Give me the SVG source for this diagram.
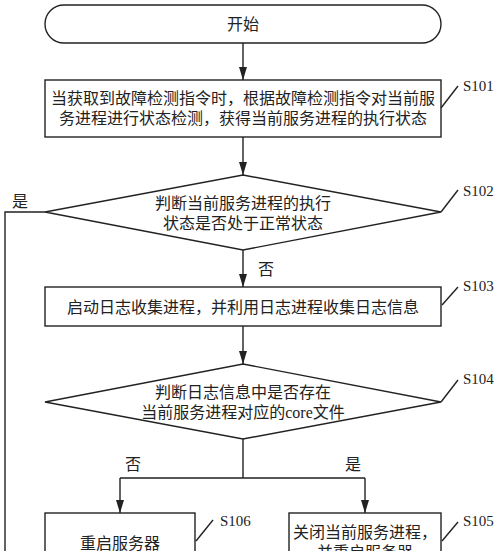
<svg xmlns="http://www.w3.org/2000/svg" width="500" height="551" viewBox="0 0 500 551">
<style>
.n{fill:#fff;stroke:#222;stroke-width:1.4}
.t{font-family:"Liberation Serif","Noto Sans CJK SC",serif;font-size:16px;fill:#222;text-anchor:middle;dominant-baseline:central}
.s{font-family:"Liberation Serif","Noto Sans CJK SC",serif;font-size:15px;fill:#222}
.c{fill:none;stroke:#222;stroke-width:1.4}
.a{marker-end:url(#ah)}
</style>
<defs>
<marker id="ah" markerUnits="userSpaceOnUse" markerWidth="10" markerHeight="14" refX="5" refY="13" orient="auto-start-reverse" viewBox="0 0 10 14">
<path d="M1,0 L9,0 L5,13 Z" fill="#222" transform="rotate(-90 5 7)"/>
</marker>
<marker id="ah2" markerUnits="userSpaceOnUse" markerWidth="14" markerHeight="10" refX="13" refY="5" orient="auto" viewBox="0 0 14 10">
<path d="M0,1 L13,5 L0,9 Z" fill="#222"/>
</marker>
</defs>
<rect width="500" height="551" fill="#fff"/>
<g id="connectors">
<path class="c" d="M243,43 V80" marker-end="url(#ah2)"/>
<path class="c" d="M243,137 V175" marker-end="url(#ah2)"/>
<path class="c" d="M243,250 V287" marker-end="url(#ah2)"/>
<path class="c" d="M243,326 V364" marker-end="url(#ah2)"/>
<path class="c" d="M243,439 V478 M120,478 H365"/>
<path class="c" d="M120,478 V513" marker-end="url(#ah2)"/>
<path class="c" d="M365,478 V513" marker-end="url(#ah2)"/>
<path class="c" d="M45,212 H5 V560"/>
<text class="t" x="20" y="201">是</text>
<text class="t" x="266" y="269">否</text>
<text class="t" x="133" y="464">否</text>
<text class="t" x="353" y="464">是</text>
</g>
<g id="start">
<rect class="n" x="45" y="5" width="396" height="38" rx="19"/>
<text class="t" x="243" y="24">开始</text>
</g>
<g id="S101">
<rect class="n" x="45" y="80" width="396" height="57"/>
<text class="t" x="243" y="98">当获取到故障检测指令时，根据故障检测指令对当前服</text>
<text class="t" x="243" y="118">务进程进行状态检测，获得当前服务进程的执行状态</text>
<path class="c" d="M441,108 L458,86"/>
<text class="s" x="463" y="91">S101</text>
</g>
<g id="S102">
<polygon class="n" points="243,175 441,212 243,250 45,212"/>
<text class="t" x="243" y="203">判断当前服务进程的执行</text>
<text class="t" x="243" y="223">状态是否处于正常状态</text>
<path class="c" d="M441,212 L458,190"/>
<text class="s" x="463" y="196">S102</text>
</g>
<g id="S103">
<rect class="n" x="45" y="287" width="396" height="39"/>
<text class="t" x="243" y="307">启动日志收集进程，并利用日志进程收集日志信息</text>
<path class="c" d="M442,305 L458,287"/>
<text class="s" x="463" y="291">S103</text>
</g>
<g id="S104">
<polygon class="n" points="243,364 441,402 243,439 45,402"/>
<text class="t" x="243" y="392">判断日志信息中是否存在</text>
<text class="t" x="243" y="412">当前服务进程对应的core文件</text>
<path class="c" d="M441,402 L458,380"/>
<text class="s" x="463" y="384">S104</text>
</g>
<g id="S106">
<rect class="n" x="45" y="513" width="150" height="60"/>
<text class="t" x="120" y="543">重启服务器</text>
<path class="c" d="M196,541 L213,520"/>
<text class="s" x="220" y="526">S106</text>
</g>
<g id="S105">
<rect class="n" x="289" y="513" width="152" height="60"/>
<text class="t" x="365" y="532">关闭当前服务进程，</text>
<text class="t" x="365" y="552">并重启服务器</text>
<path class="c" d="M442,541 L458,522"/>
<text class="s" x="463" y="526">S105</text>
</g>
</svg>
